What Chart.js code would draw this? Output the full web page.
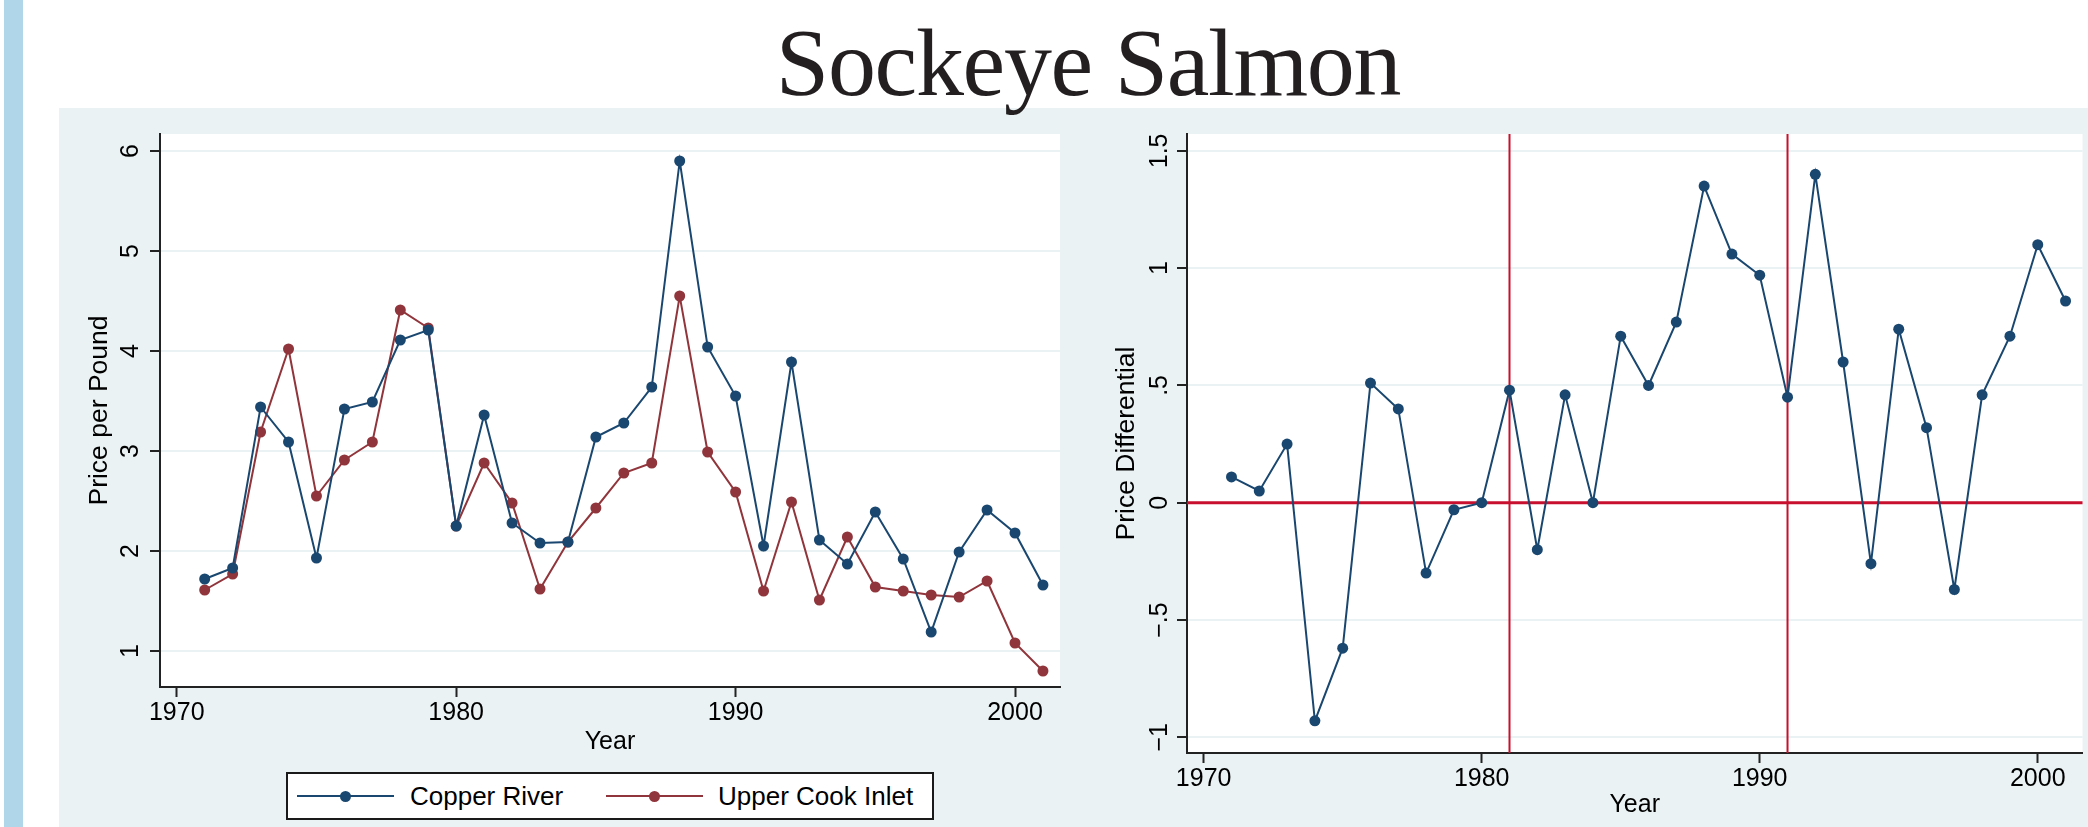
<!DOCTYPE html>
<html>
<head>
<meta charset="utf-8">
<script src="https://cdn.jsdelivr.net/npm/chart.js@4.4.0/dist/chart.umd.min.js"></script>
<style>
  html, body { margin: 0; padding: 0; background: #fff; }
  body { width: 2088px; height: 827px; position: relative; overflow: hidden; font-family: "Liberation Sans", Arial, sans-serif; }
  #strip { position: absolute; left: 4px; top: 0; width: 19px; height: 827px; background: #b0d7e9; }
  #panel { position: absolute; left: 59px; top: 108px; width: 2029px; height: 719px; background: #eaf2f3; }
  #title { position: absolute; left: 1088px; top: 15px; transform: translateX(-50%); z-index: 5;
           font-family: "Liberation Serif", "Times New Roman", serif; font-size: 96px; line-height: 96px;
           letter-spacing: -1.3px; color: #231f20; white-space: nowrap; }
  .wrap { position: absolute; top: 108px; height: 719px; }
  #leftWrap { left: 59px; width: 1020px; }
  #rightWrap { left: 1080px; width: 1008px; }
  #legend { position: absolute; left: 286px; top: 772px; width: 644px; height: 44px; border: 2px solid #1a1a1a; background: #fff; }
  #legend .ln { position: absolute; top: 21px; width: 97px; height: 2px; }
  #legend .dot { position: absolute; top: 16.5px; width: 11px; height: 11px; border-radius: 50%; }
  #legend .txt { position: absolute; top: 0; line-height: 44px; font-size: 26px; color: #000; white-space: nowrap; }
</style>
</head>
<body>
<div id="strip"></div>
<div id="panel"></div>
<div id="title">Sockeye Salmon</div>
<div class="wrap" id="leftWrap"><canvas id="priceChart" width="1020" height="719"></canvas></div>
<div class="wrap" id="rightWrap"><canvas id="diffChart" width="1008" height="719"></canvas></div>
<div id="legend">
  <div class="ln" style="left:9px;background:#1a476f"></div>
  <div class="dot" style="left:51.5px;background:#1a476f"></div>
  <div class="txt" style="left:122px">Copper River</div>
  <div class="ln" style="left:318px;background:#90353b"></div>
  <div class="dot" style="left:360.5px;background:#90353b"></div>
  <div class="txt" style="left:430px">Upper Cook Inlet</div>
</div>
<script>
// 데이터
var years = [1971, 1972, 1973, 1974, 1975, 1976, 1977, 1978, 1979, 1980,
             1981, 1982, 1983, 1984, 1985, 1986, 1987, 1988, 1989, 1990,
             1991, 1992, 1993, 1994, 1995, 1996, 1997, 1998, 1999, 2000, 2001];
var copperRiver = [1.72, 1.83, 3.44, 3.09, 1.93, 3.42, 3.49, 4.11, 4.21, 2.25,
                   3.36, 2.28, 2.08, 2.09, 3.14, 3.28, 3.64, 5.90, 4.04, 3.55,
                   2.05, 3.89, 2.11, 1.87, 2.39, 1.92, 1.19, 1.99, 2.41, 2.18, 1.66];
var upperCookInlet = [1.61, 1.77, 3.19, 4.02, 2.55, 2.91, 3.09, 4.41, 4.23, 2.25,
                      2.88, 2.48, 1.62, 2.09, 2.43, 2.78, 2.88, 4.55, 2.99, 2.59,
                      1.60, 2.49, 1.51, 2.14, 1.64, 1.60, 1.56, 1.54, 1.70, 1.08, 0.80];
var priceDiff = [0.11, 0.05, 0.25, -0.93, -0.62, 0.51, 0.40, -0.30, -0.03, 0.00,
                 0.48, -0.20, 0.46, 0.00, 0.71, 0.50, 0.77, 1.35, 1.06, 0.97,
                 0.45, 1.40, 0.60, -0.26, 0.74, 0.32, -0.37, 0.46, 0.71, 1.10, 0.86];

var xTicks = [1970, 1980, 1990, 2000];
var priceTicks = [1, 2, 3, 4, 5, 6];
var priceTickLabels = ['1', '2', '3', '4', '5', '6'];
var diffTicks = [-1, -0.5, 0, 0.5, 1, 1.5];
var diffTickLabels = ['\u22121', '\u2212.5', '0', '.5', '1', '1.5'];
var breakYears = [1981, 1991];   // 세로 기준선
var zeroLevels = [0];            // 가로 기준선

var NAVY = '#1a476f', MAROON = '#90353b', RED = '#c8102e';
var FONT = '"Liberation Sans", Arial, sans-serif';

function points(vals) {
    return years.map(function(yr, i) { return { x: yr, y: vals[i] }; });
}

// 흰색 플롯 영역
var plotBackground = {
    id: 'plotBackground',
    beforeDraw: function(chart) {
        var a = chart.chartArea, ctx = chart.ctx;
        ctx.save();
        ctx.fillStyle = '#fff';
        ctx.fillRect(a.left, a.top, a.right - a.left, a.bottom - a.top);
        ctx.restore();
    }
};

// 세로로 회전된 y축 눈금 라벨
var rotatedYLabels = {
    id: 'rotatedYLabels',
    afterDraw: function(chart, args, opts) {
        var ys = chart.scales.y, ctx = chart.ctx;
        ctx.save();
        ctx.font = '25px ' + FONT;
        ctx.fillStyle = '#000';
        ctx.textAlign = 'center';
        ctx.textBaseline = 'alphabetic';
        ys.ticks.forEach(function(t, i) {
            ctx.save();
            ctx.translate(chart.chartArea.left - opts.gap, ys.getPixelForValue(t.value));
            ctx.rotate(-Math.PI / 2);
            ctx.fillText(opts.labels[i], 0, 0);
            ctx.restore();
        });
        ctx.restore();
    }
};

// 빨간 기준선
var referenceLines = {
    id: 'referenceLines',
    beforeDatasetsDraw: function(chart) {
        var a = chart.chartArea, ctx = chart.ctx, xs = chart.scales.x, ys = chart.scales.y;
        ctx.save();
        ctx.strokeStyle = RED;
        ctx.lineWidth = 2;
        breakYears.forEach(function(yr) {
            var px = xs.getPixelForValue(yr);
            ctx.beginPath(); ctx.moveTo(px, a.top); ctx.lineTo(px, a.bottom); ctx.stroke();
        });
        ctx.lineWidth = 3;
        zeroLevels.forEach(function(v) {
            var py = ys.getPixelForValue(v);
            ctx.beginPath(); ctx.moveTo(a.left, py); ctx.lineTo(a.right, py); ctx.stroke();
        });
        ctx.restore();
    }
};

function lineSet(label, vals, color) {
    return {
        label: label,
        data: points(vals),
        borderColor: color,
        backgroundColor: color,
        borderWidth: 2,
        pointRadius: 5.5,
        pointBorderWidth: 0,
        pointBackgroundColor: color,
        tension: 0
    };
}

function makeOptions(cfg) {
    return {
        responsive: false,
        animation: false,
        layout: { padding: { top: 26, right: cfg.padRight, left: 0, bottom: 0 } },
        plugins: {
            legend: { display: false },
            tooltip: { enabled: false },
            rotatedYLabels: { gap: cfg.labelGap, labels: cfg.yLabels }
        },
        scales: {
            x: {
                type: 'linear',
                min: 1969.4,
                max: 2001.61,
                afterBuildTicks: function(s) { s.ticks = xTicks.map(function(v) { return { value: v }; }); },
                afterFit: function(s) { s.height = cfg.xHeight; },
                grid: { drawOnChartArea: false, drawTicks: true, tickLength: 10, tickColor: '#222', tickWidth: 2 },
                border: { color: '#222', width: 2 },
                ticks: {
                    color: '#000', font: { family: FONT, size: 25 }, padding: 1,
                    maxRotation: 0, autoSkip: false,
                    callback: function(v) { return String(v); }
                },
                title: {
                    display: true, text: 'Year', color: '#000',
                    font: { family: FONT, size: 25 },
                    padding: { top: 0, bottom: cfg.xTitlePad }
                }
            },
            y: {
                min: cfg.yMin,
                max: cfg.yMax,
                afterBuildTicks: function(s) { s.ticks = cfg.yTicks.map(function(v) { return { value: v }; }); },
                afterFit: function(s) { s.width = cfg.yWidth; },
                grid: { color: '#eaf2f3', lineWidth: 2, drawTicks: true, tickLength: 10, tickColor: '#222', tickWidth: 2 },
                border: { color: '#222', width: 2 },
                ticks: { display: false },
                title: {
                    display: true, text: cfg.yTitle, color: '#000',
                    font: { family: FONT, size: 26.5 },
                    padding: { top: cfg.yTitlePad, bottom: 0 }
                }
            }
        }
    };
}

document.addEventListener('DOMContentLoaded', function() {
    // 왼쪽: 가격
    new Chart(document.getElementById('priceChart').getContext('2d'), {
        type: 'line',
        data: {
            datasets: [
                lineSet('Copper River', copperRiver, NAVY),
                lineSet('Upper Cook Inlet', upperCookInlet, MAROON)
            ]
        },
        options: makeOptions({
            padRight: 19, xHeight: 140, xTitlePad: 70, yWidth: 101, yTitlePad: 25,
            yMin: 0.64, yMax: 6.17, yTicks: priceTicks, yLabels: priceTickLabels,
            labelGap: 22, yTitle: 'Price per Pound'
        }),
        plugins: [plotBackground, rotatedYLabels]
    });

    // 오른쪽: 가격 차이
    new Chart(document.getElementById('diffChart').getContext('2d'), {
        type: 'line',
        data: {
            datasets: [lineSet('Price Differential', priceDiff, NAVY)]
        },
        options: makeOptions({
            padRight: 1, xHeight: 74, xTitlePad: 7, yWidth: 107, yTitlePad: 31,
            yMin: -1.067, yMax: 1.572, yTicks: diffTicks, yLabels: diffTickLabels,
            labelGap: 20, yTitle: 'Price Differential'
        }),
        plugins: [plotBackground, rotatedYLabels, referenceLines]
    });
});
</script>
</body>
</html>
